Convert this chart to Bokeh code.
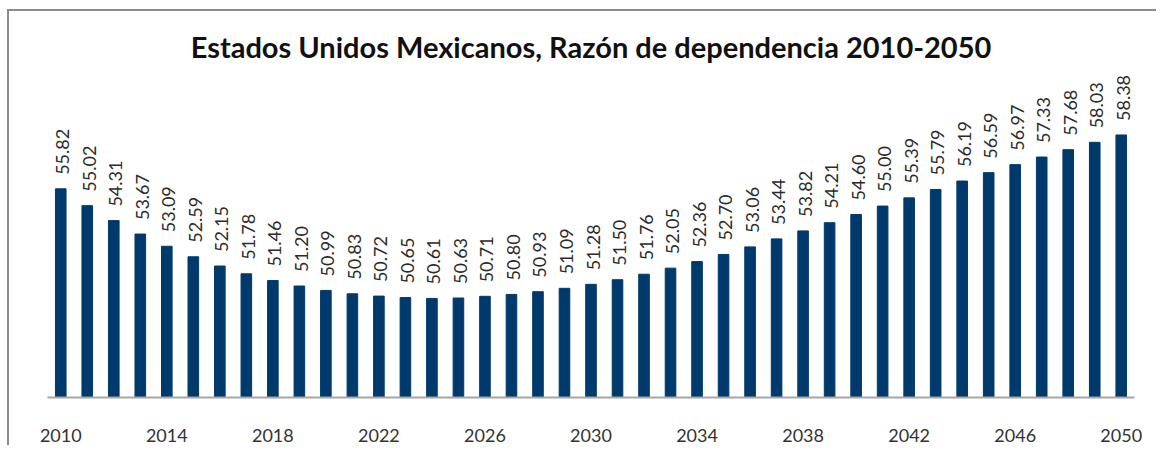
import math
from bokeh.plotting import figure
from bokeh.models import ColumnDataSource, FixedTicker, Title
from bokeh.core.properties import value
from bokeh.embed import file_html
from bokeh.resources import INLINE

years = list(range(2010, 2051))
ratios = [55.82, 55.02, 54.31, 53.67, 53.09, 52.59, 52.15, 51.78, 51.46, 51.20,
          50.99, 50.83, 50.72, 50.65, 50.61, 50.63, 50.71, 50.80, 50.93, 51.09,
          51.28, 51.50, 51.76, 52.05, 52.36, 52.70, 53.06, 53.44, 53.82, 54.21,
          54.60, 55.00, 55.39, 55.79, 56.19, 56.59, 56.97, 57.33, 57.68, 58.03,
          58.38]
labels = ["%.2f" % v for v in ratios]
tick_years = [2010, 2014, 2018, 2022, 2026, 2030, 2034, 2038, 2042, 2046, 2050]
title_text = "Estados Unidos Mexicanos, Razón de dependencia 2010-2050"
y_base = 45.9

src = ColumnDataSource(dict(x=years, y=ratios, lab=labels))

p = figure(width=1156, height=445, output_backend="svg", toolbar_location=None,
           x_range=(2009.5, 2050.5), y_range=(y_base, 61.54),
           y_axis_location=None, min_border_left=47, min_border_right=22,
           min_border_top=68, min_border_bottom=48)

# chart-area frame: only its top and left edges fall inside the picture
p.styles = {
    "background": ("linear-gradient(#8c8c8c, #8c8c8c) 8px 9px / 100% 2px no-repeat, "
                   "linear-gradient(#8c8c8c, #8c8c8c) 7px 9px / 2px 100% no-repeat, "
                   "#ffffff"),
}

p.title = Title(text=title_text, align="center", text_font="Lato",
                text_font_size="29px", text_font_style="bold", text_color="#111111")

p.vbar(x="x", top="y", bottom=y_base, width=0.4, source=src,
       fill_color="#003a6c", line_color="#003a6c")
p.text(x="x", y="y", text="lab", source=src, angle=math.pi / 2,
       text_align="left", text_baseline="middle", x_offset=2, y_offset=-14,
       text_font=value("Lato"), text_font_size="18px", text_color="#2b2b2b")

p.xaxis.ticker = FixedTicker(ticks=tick_years)
p.xaxis.major_label_overrides = {t: str(t) for t in tick_years}
p.xaxis.major_tick_line_color = None
p.xaxis.minor_tick_line_color = None
p.xaxis.axis_line_color = "#a6a6a6"
p.xaxis.axis_line_width = 2
p.xaxis.major_label_text_font = "Lato"
p.xaxis.major_label_text_font_size = "18px"
p.xaxis.major_label_text_color = "#333333"
p.xaxis.major_label_standoff = 25

p.xgrid.visible = False
p.ygrid.visible = False
p.outline_line_color = None
p.background_fill_color = None
p.border_fill_color = None

open("out.html", "w").write(file_html(p, INLINE))
